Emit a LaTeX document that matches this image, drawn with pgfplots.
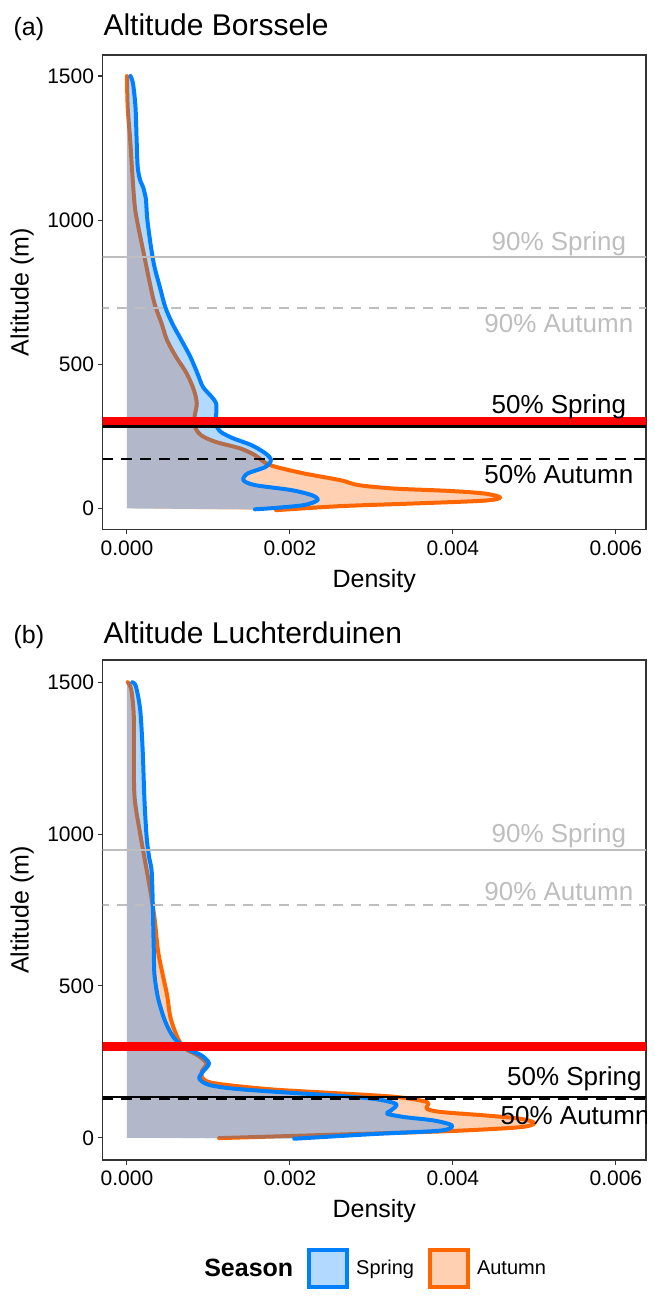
\documentclass[border=0pt]{standalone}
\usepackage{fontspec}
\setmainfont{Liberation Sans}
\usepackage{pgfplots}
\pgfplotsset{compat=1.18}
\usepackage{pgfplotstable}

\definecolor{sblue}{HTML}{0080FF}
\definecolor{aorange}{HTML}{FF6600}
\definecolor{refgray}{HTML}{BEBEBE}
\definecolor{frame}{HTML}{333333}
\definecolor{lblue}{HTML}{B2D9FF}
\definecolor{lorange}{HTML}{FFD1B2}

% Panel (a): Borssele
\pgfplotstableread{
x y
0.000044 1500
0.000075 1473
0.000105 1392
0.000119 1277
0.000132 1184
0.000163 1138
0.000198 1115
0.000229 1080
0.000237 1057
0.000251 1000
0.000295 907
0.000338 838
0.000404 768
0.000470 699
0.000558 641
0.000668 584
0.000778 526
0.000866 468
0.000932 422
0.001040 387
0.001095 364
0.001095 324
0.001086 295
0.001150 266
0.001305 243
0.001525 220
0.001700 191
0.001767 168
0.001700 144
0.001480 121
0.001430 98
0.001570 81
0.002010 64
0.002270 46
0.002340 29
0.002180 12
0.001830 2
0.001570 -3
}\Aspr

\pgfplotstableread{
x y
0.000000 1500
0.000009 1392
0.000040 1277
0.000066 1161
0.000097 1046
0.000140 976
0.000207 884
0.000273 792
0.000338 711
0.000426 641
0.000492 584
0.000602 526
0.000734 468
0.000822 410
0.000857 364
0.000830 318
0.000835 283
0.000910 254
0.001086 231
0.001393 208
0.001570 185
0.001700 158
0.001830 144
0.002180 121
0.002620 98
0.002840 81
0.003280 69
0.003940 61
0.004380 52
0.004580 38
0.004380 27
0.003500 17
0.002620 8
0.001830 -6
}\Aaut

% Panel (b): Luchterduinen
\pgfplotstableread{
x y
0.000066 1500
0.000110 1486
0.000163 1408
0.000193 1276
0.000215 1111
0.000242 989
0.000273 923
0.000303 879
0.000316 780
0.000325 669
0.000330 614
0.000338 537
0.000382 460
0.000470 383
0.000580 328
0.000734 294
0.000910 272
0.001007 245
0.000930 217
0.000888 195
0.000998 175
0.001305 162
0.001965 149
0.002624 138
0.003064 127
0.003306 111
0.003240 90
0.003196 79
0.003415 68
0.003767 57
0.003987 41
0.003855 24
0.003064 13
0.002053 -3
}\Bspr

\pgfplotstableread{
x y
0.000009 1500
0.000053 1475
0.000084 1387
0.000084 1221
0.000097 1111
0.000163 1000
0.000229 901
0.000273 835
0.000338 725
0.000382 614
0.000448 526
0.000492 471
0.000536 394
0.000624 328
0.000712 294
0.000866 272
0.000976 245
0.000919 219
0.000930 195
0.001086 179
0.001745 160
0.002624 146
0.003284 135
0.003679 118
0.003679 96
0.003855 85
0.004382 74
0.004822 63
0.004998 49
0.004822 35
0.003943 22
0.002624 11
0.001130 -1
}\Baut

\pgfplotsset{
  panel/.style={
    scale only axis, width=543.5pt,
    xmin=-0.0003, xmax=0.00637, ymin=-73, ymax=1573,
    xtick={0,0.002,0.004,0.006},
    xticklabels={0.000,0.002,0.004,0.006},
    ytick={0,500,1000,1500},
    scaled x ticks=false, scaled y ticks=false,
    /pgf/number format/assume math mode=true,
    /pgf/number format/1000 sep={},
    tick align=outside, major tick length=5pt,
    xtick pos=bottom, ytick pos=left,
    tick style={frame, line width=1.1pt},
    axis line style={frame, line width=1.1pt},
    ticklabel style={font=\fontsize{21}{25}\selectfont, text=black},
    xticklabel style={yshift=-2.5pt},
    label style={font=\fontsize{25}{30}\selectfont},
    xlabel style={yshift=-7pt},
    ylabel style={at={(axis description cs:-0.148,0.5)}, anchor=center},
    xlabel={Density}, ylabel={Altitude (m)},
    every axis plot/.append style={forget plot},
  },
  dens/.style={line width=4pt, smooth, line join=round, line cap=round},
  hl/.style={line width=2pt, refgray},
}

\begin{document}
\begin{tikzpicture}
\useasboundingbox (0pt,0pt) rectangle (655pt,1303pt);

% ---------------- Panel (a)
\begin{axis}[panel, at={(102.5pt,773.5pt)}, anchor=south west, height=474.5pt]
\addplot[draw=none, fill=aorange, fill opacity=0.3, smooth] table {\Aaut} -- (axis cs:0,0) -- (axis cs:0,1500) -- cycle;
\addplot[dens, aorange] table {\Aaut};
\addplot[draw=none, fill=sblue, fill opacity=0.3, smooth] table {\Aspr} -- (axis cs:0,0) -- (axis cs:0,1500) -- cycle;
\addplot[dens, sblue] table {\Aspr};
\addplot[hl] coordinates {(-0.001,871) (0.007,871)};
\addplot[hl, dash pattern=on 10pt off 8pt] coordinates {(-0.001,695) (0.007,695)};
\addplot[red, line width=9pt] coordinates {(-0.001,301) (0.007,301)};
\addplot[black, line width=2.5pt] coordinates {(-0.001,285) (0.007,285)};
\addplot[black, line width=2.5pt, dash pattern=on 11pt off 8pt] coordinates {(-0.001,171) (0.007,171)};
\node[text=refgray, font=\fontsize{26}{30}\selectfont] at (axis cs:0.0053,919) {90\% Spring};
\node[text=refgray, font=\fontsize{26}{30}\selectfont] at (axis cs:0.0053,643) {90\% Autumn};
\node[font=\fontsize{26}{30}\selectfont] at (axis cs:0.0053,354) {50\% Spring};
\node[font=\fontsize{26}{30}\selectfont] at (axis cs:0.0053,116) {50\% Autumn};
\end{axis}

% ---------------- Panel (b)
\begin{axis}[panel, at={(102.5pt,143pt)}, anchor=south west, height=500pt,
  legend style={at={(axis description cs:0.497,-0.216)}, anchor=center,
    draw=none, fill=none, legend columns=-1,
    font=\fontsize{20}{24}\selectfont,
    /tikz/every odd column/.append style={column sep=5pt},
    /tikz/every even column/.append style={column sep=12pt}},
  legend cell align=left]
\addplot[draw=none, fill=aorange, fill opacity=0.3, smooth] table {\Baut} -- (axis cs:0,0) -- (axis cs:0,1500) -- cycle;
\addplot[dens, aorange] table {\Baut};
\addplot[draw=none, fill=sblue, fill opacity=0.3, smooth] table {\Bspr} -- (axis cs:0,0) -- (axis cs:0,1500) -- cycle;
\addplot[dens, sblue] table {\Bspr};
\addplot[hl] coordinates {(-0.001,947) (0.007,947)};
\addplot[hl, dash pattern=on 10pt off 8pt] coordinates {(-0.001,766) (0.007,766)};
\addplot[red, line width=9pt] coordinates {(-0.001,300) (0.007,300)};
\addplot[black, line width=2.5pt] coordinates {(-0.001,134) (0.007,134)};
\addplot[black, line width=2.5pt, dash pattern=on 11pt off 8pt] coordinates {(-0.001,127) (0.007,127)};
\node[text=refgray, font=\fontsize{26}{30}\selectfont] at (axis cs:0.0053,994) {90\% Spring};
\node[text=refgray, font=\fontsize{26}{30}\selectfont] at (axis cs:0.0053,812) {90\% Autumn};
\node[font=\fontsize{26}{30}\selectfont] at (axis cs:0.00549,194) {50\% Spring};
\node[font=\fontsize{26}{30}\selectfont] at (axis cs:0.0055,74) {50\% Autumn};
\addlegendimage{empty legend}
\addlegendentry{\fontsize{25}{30}\selectfont\bfseries Season}
\addlegendimage{legend image code/.code={\draw[draw=sblue, fill=lblue, line width=4pt] (0pt,-18pt) rectangle (38pt,19pt);}}
\addlegendentry{Spring}
\addlegendimage{legend image code/.code={\draw[draw=aorange, fill=lorange, line width=4pt] (0pt,-18pt) rectangle (38pt,19pt);}}
\addlegendentry{Autumn}
\end{axis}

% titles
\node[anchor=base west, font=\fontsize{25}{30}\selectfont] at (10pt,1267pt) {(a)};
\node[anchor=base west, font=\fontsize{30}{36}\selectfont] at (100pt,1267pt) {Altitude Borssele};
\node[anchor=base west, font=\fontsize{25}{30}\selectfont] at (10pt,659pt) {(b)};
\node[anchor=base west, font=\fontsize{30}{36}\selectfont] at (100pt,659pt) {Altitude Luchterduinen};
\end{tikzpicture}
\end{document}
